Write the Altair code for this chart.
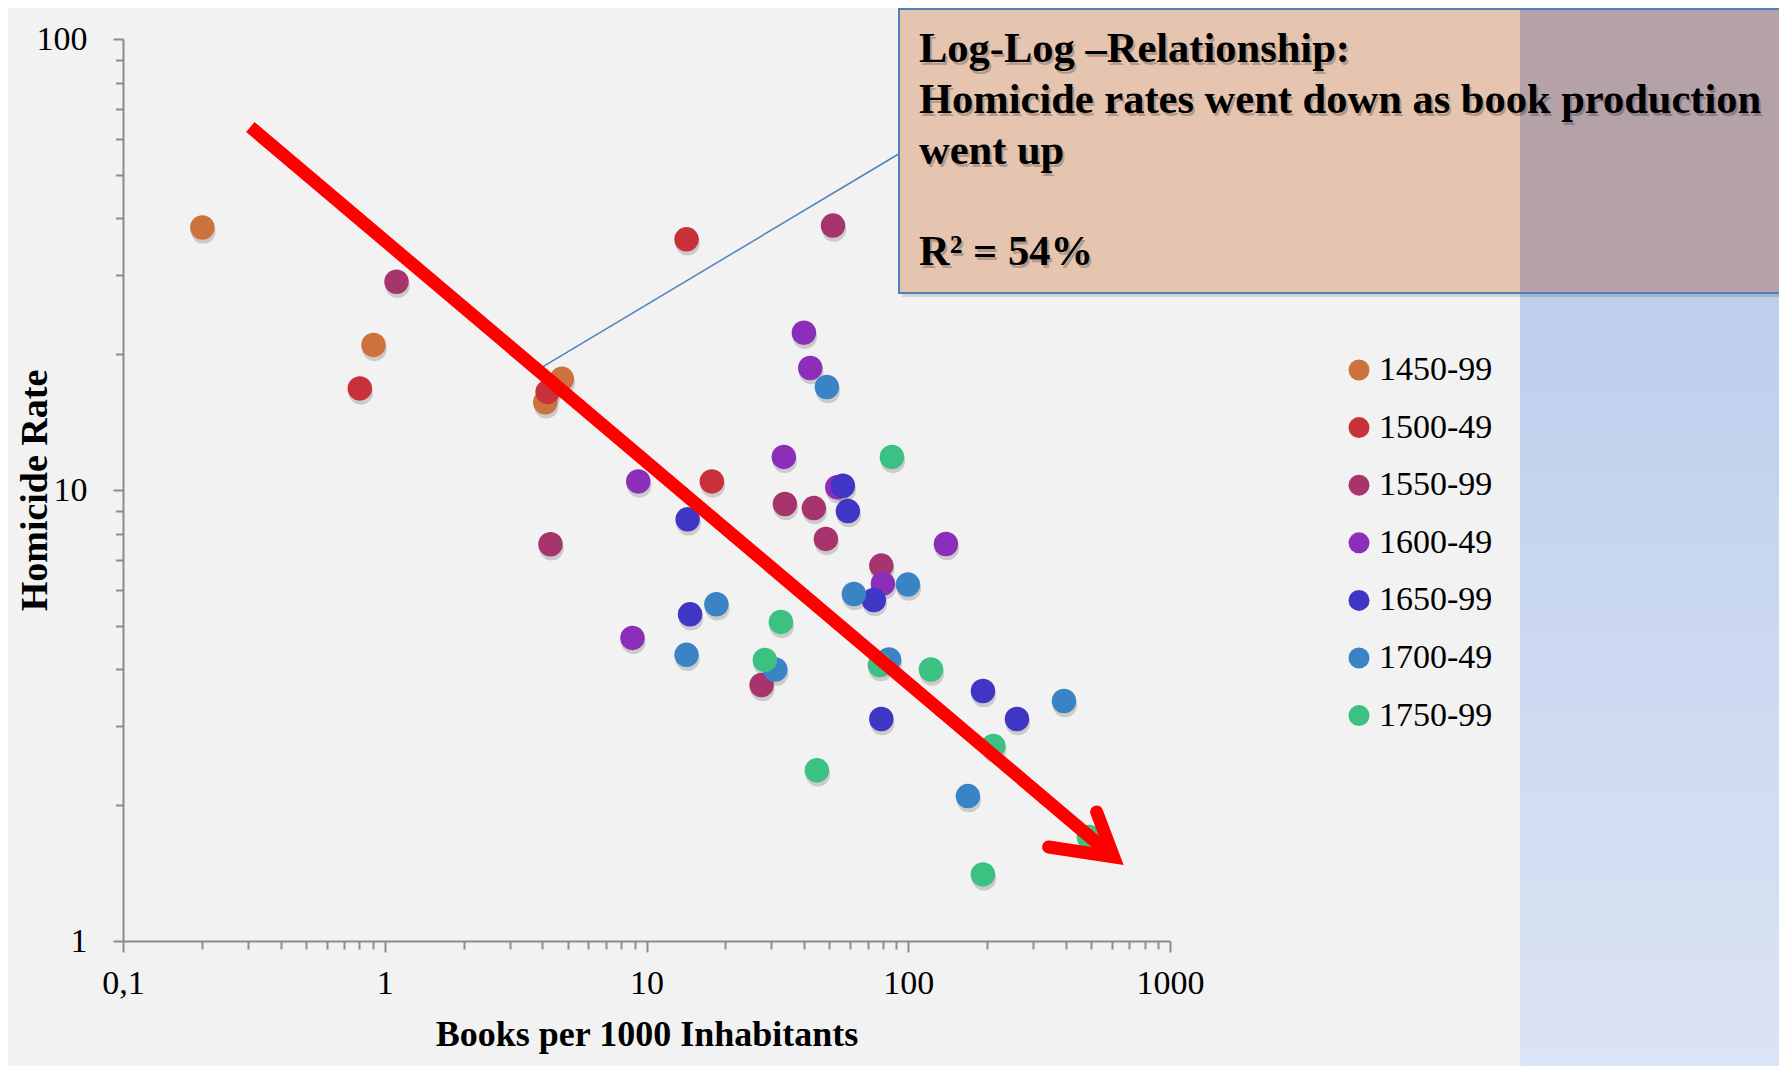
import altair as alt
import pandas as pd

# ---------------- data ----------------
periods = ["1450-99", "1500-49", "1550-99", "1600-49", "1650-99", "1700-49", "1750-99"]
colors = ["#cd723d", "#c8313a", "#a8346e", "#8b2fbb", "#4036c6", "#3a84c6", "#3bc282"]

books_1450 = [0.201, 0.906, 4.105, 4.751]
rate_1450 = [38.2, 20.97, 15.65, 17.64]
books_1500 = [0.803, 4.188, 14.22, 17.77]
rate_1500 = [16.80, 16.50, 35.96, 10.45]
books_1550 = [1.109, 4.297, 51.58, 33.78, 43.59, 48.45, 78.9, 27.52]
rate_1550 = [28.96, 7.58, 38.58, 9.31, 9.12, 7.79, 6.80, 3.695]
books_1600 = [9.30, 8.84, 39.93, 42.23, 33.47, 53.57, 80.02, 139.3]
rate_1600 = [10.45, 4.70, 22.33, 18.64, 11.84, 10.14, 6.20, 7.59]
books_1650 = [14.36, 14.67, 56.26, 58.8, 73.9, 78.9, 192.9, 260.2]
rate_1650 = [8.61, 5.30, 10.22, 8.98, 5.70, 3.106, 3.584, 3.106]
books_1700 = [48.88, 18.49, 14.22, 31.04, 61.98, 99.7, 84.4, 393.5, 169.0]
rate_1700 = [16.92, 5.58, 4.31, 4.00, 5.88, 6.17, 4.21, 3.405, 2.096]
books_1750 = [86.6, 32.61, 28.32, 77.9, 122.1, 44.76, 211.4, 490.0, 192.9]
rate_1750 = [11.84, 5.10, 4.20, 4.09, 4.00, 2.39, 2.706, 1.70, 1.405]

# red trend arrow (shaft + head) and callout leader line, in data units
arrow_shaft_books = [0.3065, 609.1]
arrow_shaft_rate = [63.8, 1.536]
arrow_head_books = [524.6, 609.1, 343.8]
arrow_head_rate = [1.932, 1.536, 1.616]
leader_books = [3.921, 92.9]
leader_rate = [18.60, 55.8]

x_ticks = [round(k * d, 6) for d in [0.1, 1, 10, 100] for k in range(1, 10)] + [1000]
y_ticks = [round(k * d, 6) for d in [1, 10] for k in range(1, 10)] + [100]

box_lines = ["Log-Log \u2013Relationship:",
             "Homicide rates went down as book production",
             "went up"]
box_r2 = "R\u00b2 = 54%"

x_title = "Books per 1000 Inhabitants"
y_title = "Homicide Rate"

# ---------------- tables ----------------
all_books = [books_1450, books_1500, books_1550, books_1600, books_1650, books_1700, books_1750]
all_rates = [rate_1450, rate_1500, rate_1550, rate_1600, rate_1650, rate_1700, rate_1750]
rows = []
for p, bs, rs in zip(periods, all_books, all_rates):
    for b, r in zip(bs, rs):
        rows.append({"books": b, "rate": r, "period": p})
pts = pd.DataFrame(rows)

arrow_shaft = pd.DataFrame({"books": arrow_shaft_books, "rate": arrow_shaft_rate,
                            "i": list(range(len(arrow_shaft_books)))})
arrow_head = pd.DataFrame({"books": arrow_head_books, "rate": arrow_head_rate,
                           "i": list(range(len(arrow_head_books)))})
leader = pd.DataFrame({"books": leader_books, "rate": leader_rate,
                       "i": list(range(len(leader_books)))})
one = pd.DataFrame({"k": [0]})

# ---------------- layout ----------------
W, H = 1047, 902
SERIF = "Liberation Serif"
AXIS_GRAY = "#8c8c8c"

xscale = alt.Scale(type="log", domain=[0.1, 1000], nice=False)
yscale = alt.Scale(type="log", domain=[1, 100], nice=False)

major_x = "indexof([0.1, 1, 10, 100, 1000], datum.value) >= 0"
major_y = "indexof([1, 10, 100], datum.value) >= 0"

xaxis = alt.Axis(
    values=x_ticks,
    labelExpr="datum.value < 0.15 ? '0,1' : (indexof([1, 10, 100, 1000], datum.value) >= 0 ? format(datum.value, 'd') : '')",
    tickSize={"condition": {"test": major_x, "value": 11}, "value": 8},
    labelPadding=14.5,
    labelOverlap=False,
    labelFlush=False,
    title=x_title,
    titleX=W / 2,
    titleY=104,
    titleAlign="center",
    titleBaseline="alphabetic",
)
yaxis = alt.Axis(
    values=y_ticks,
    labelExpr=f"{major_y} ? format(datum.value, 'd') : ''",
    tickSize={"condition": {"test": major_y, "value": 10}, "value": 7.5},
    labelPadding=26,
    labelOverlap=False,
    labelFlush=False,
    title=y_title,
    titleFontSize=38,
    titleX=-77,
    titleY=H / 2,
    titleAngle=270,
    titleAlign="center",
    titleBaseline="alphabetic",
)

X = alt.X("books:Q", scale=xscale, axis=xaxis)
Y = alt.Y("rate:Q", scale=yscale, axis=yaxis)

# blue background strip on the right
blue_bg = alt.Chart(one).mark_rect(
    color=alt.LinearGradient(
        gradient="linear",
        stops=[alt.GradientStop(color="#b3c6e9", offset=0),
               alt.GradientStop(color="#dbe4f4", offset=1)],
        x1=0, x2=0, y1=0, y2=1,
    )
).encode(x=alt.value(1397), x2=alt.value(1660), y=alt.value(-31), y2=alt.value(1030))

leader_line = alt.Chart(leader).mark_line(color="#4f81bd", strokeWidth=1.5).encode(
    x=X, y=Y, order="i:Q")

dot_shadow = alt.Chart(pts).mark_circle(size=600, color="#000000", opacity=0.16,
                                         xOffset=1, yOffset=4).encode(x=X, y=Y)

dots = alt.Chart(pts).mark_circle(size=600, opacity=1).encode(
    x=X, y=Y,
    color=alt.Color(
        "period:N",
        scale=alt.Scale(domain=periods, range=colors),
        legend=alt.Legend(
            orient="none", legendX=1219, legendY=314, title=None,
            symbolType="circle", symbolSize=441, symbolStrokeWidth=0, symbolOpacity=1,
            labelFont=SERIF, labelFontSize=34, labelColor="#000000",
            rowPadding=23.6, labelOffset=3, padding=0, symbolOffset=0,
        ),
    ),
)

shaft = alt.Chart(arrow_shaft).mark_line(color="#ff0000", strokeWidth=13, strokeCap="butt").encode(
    x=X, y=Y, order="i:Q")
head = alt.Chart(arrow_head).mark_line(color="#ff0000", strokeWidth=13, strokeCap="round",
                                       strokeJoin="miter").encode(x=X, y=Y, order="i:Q")

box_shadow = alt.Chart(one).mark_rect(color="#000000", opacity=0.12).encode(
    x=alt.value(779), x2=alt.value(1660), y=alt.value(-30), y2=alt.value(258))
box_peach = alt.Chart(one).mark_rect(color="#e5c5b0").encode(
    x=alt.value(776), x2=alt.value(1397), y=alt.value(-30), y2=alt.value(254))
box_mauve = alt.Chart(one).mark_rect(color="#b4a2a8").encode(
    x=alt.value(1397), x2=alt.value(1660), y=alt.value(-30), y2=alt.value(254))
box_border = alt.Chart(one).mark_rect(fill=None, fillOpacity=0, stroke="#4f81bd", strokeWidth=2).encode(
    x=alt.value(776), x2=alt.value(1660), y=alt.value(-30), y2=alt.value(254))

text_props = dict(align="left", baseline="alphabetic", font=SERIF, fontSize=42.5,
                  fontWeight="bold", lineHeight=50.75)
text_layers = []
for txt, ty in [(box_lines, 23), (box_r2, 226)]:
    text_layers.append(alt.Chart(one).mark_text(color="#000000", opacity=0.22, dx=2, dy=3,
                                                text=txt, **text_props).encode(
        x=alt.value(796), y=alt.value(ty)))
    text_layers.append(alt.Chart(one).mark_text(color="#000000", text=txt, **text_props).encode(
        x=alt.value(796), y=alt.value(ty)))

chart = alt.layer(
    blue_bg, leader_line, dot_shadow, dots, shaft, head,
    box_shadow, box_peach, box_mauve, box_border, *text_layers,
).properties(
    width=W, height=H,
    background="#f2f2f2",
    padding={"left": 115, "top": 31, "right": 609, "bottom": 125},
    autosize=alt.AutoSizeParams(type="none"),
).configure_view(
    stroke=None
).configure_axis(
    grid=False,
    domainColor=AXIS_GRAY, domainWidth=2,
    tickColor=AXIS_GRAY, tickWidth=2,
    labelFont=SERIF, labelFontSize=34, labelColor="#000000",
    titleFont=SERIF, titleFontSize=36, titleFontWeight="bold", titleColor="#000000",
)

chart.save("out.html", embed_options={"renderer": "svg", "actions": False})
